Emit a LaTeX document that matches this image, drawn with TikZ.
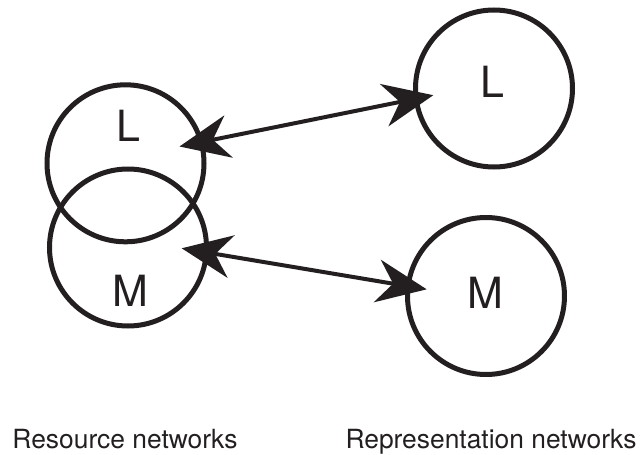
\documentclass[tikz,border=0pt]{standalone}
\usepackage{fontspec}
\setmainfont{TeX Gyre Heros}
\usetikzlibrary{arrows.meta}
\definecolor{ink}{RGB}{35,31,32}
\begin{document}
\begin{tikzpicture}[x=1pt,y=-1pt,
  ring/.style={circle,draw=ink,line width=5pt,minimum size=157pt,inner sep=0pt},
  letter/.style={text=ink,inner sep=0pt,font=\fontsize{43}{50}\selectfont},
  caption/.style={text=ink,inner sep=0pt,anchor=base,font=\fontsize{26.4}{30}\selectfont},
  link/.style={draw=ink,line width=4pt,{Stealth[length=50pt,width=43pt,inset=16pt]}-{Stealth[length=50pt,width=43pt,inset=16pt]}}]
\useasboundingbox (0,0) rectangle (641,455);
% circles
\node[ring] (resL) at (125.5,163.3) {};
\node[ring] (resM) at (128,247.5) {};
\node[ring] (repL) at (494,88.5) {};
\node[ring] (repM) at (486,296) {};
% letters
\node[letter] (tResL) at (128,126) {L};
\node[letter] (tResM) at (130,291) {M};
\node[letter] (tRepL) at (492.5,82) {L};
\node[letter] (tRepM) at (485,292.5) {M};
% arrow ends
\coordinate (aL1) at (179.5,146.5);
\coordinate (aL2) at (433.3,95.2);
\coordinate (aM1) at (181.7,248.3);
\coordinate (aM2) at (426.7,289.3);
\draw[link] (aL1) -- (aL2);
\draw[link] (aM1) -- (aM2);
% captions
\node[caption] (capRes) at (125,448) {Resource networks};
\node[caption] (capRep) at (491,448) {Representation networks};
\end{tikzpicture}
\end{document}
